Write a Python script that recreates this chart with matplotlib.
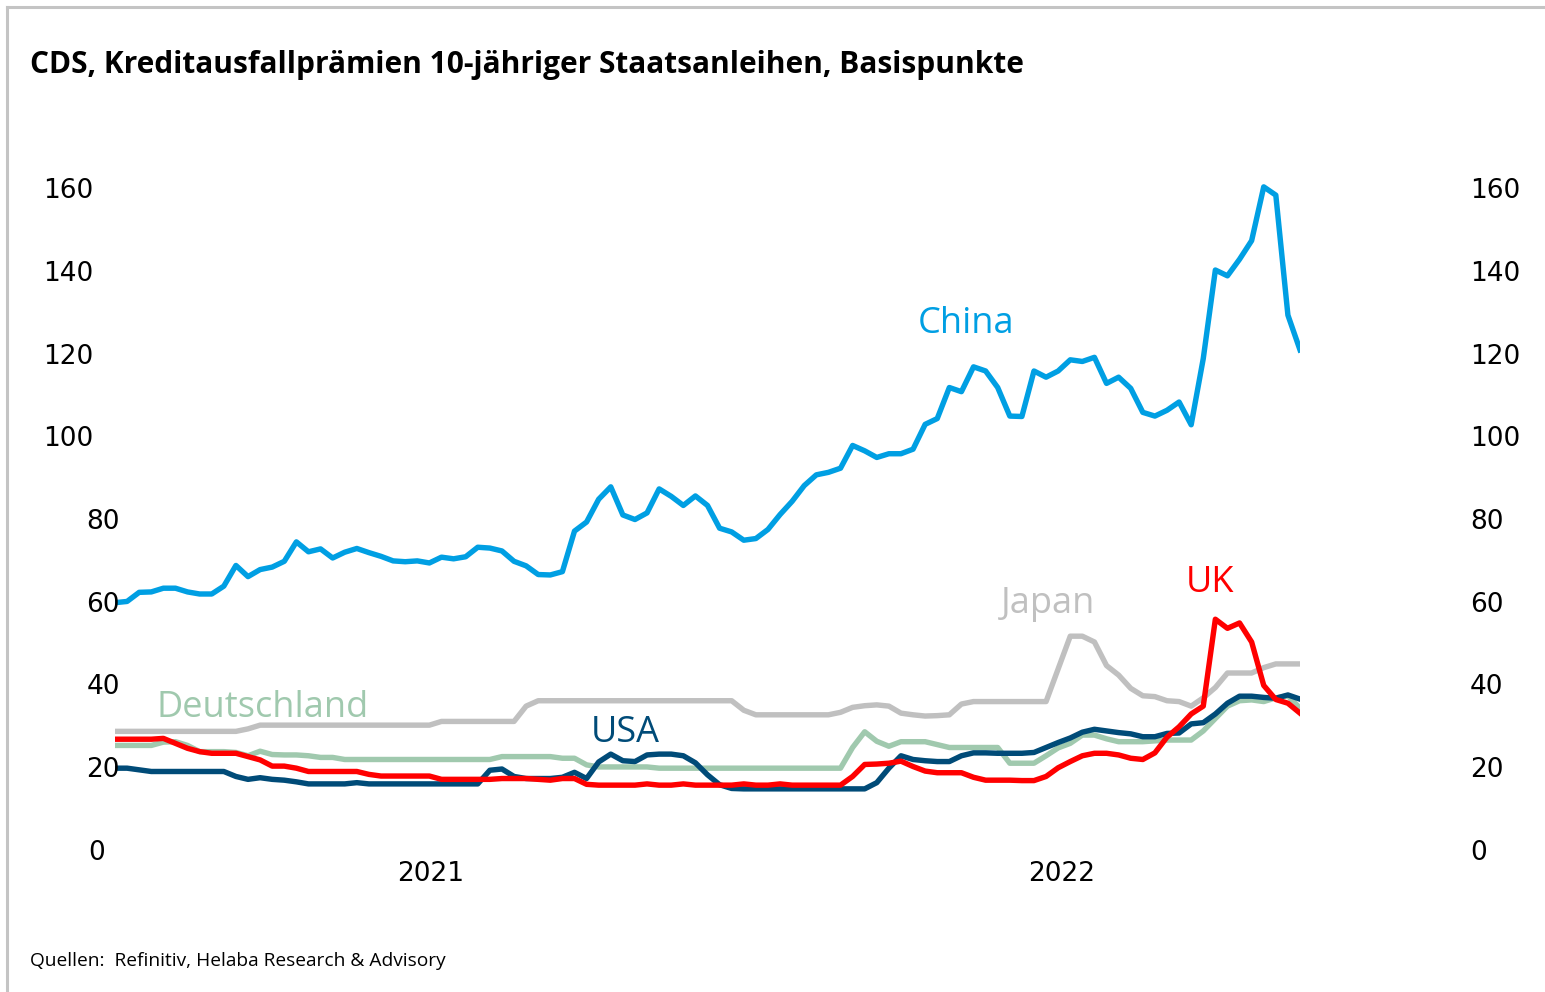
import matplotlib
matplotlib.use("Agg")
import matplotlib.pyplot as plt
import matplotlib.transforms as mtransforms
import matplotlib.dates as mdates
from matplotlib.lines import Line2D
import pandas as pd

# ---------------- data (weekly) ----------------
start_date = "2020-12-31"
n_weeks = 99

china = [60.5, 60.8, 63.0, 63.1, 64.0, 64.0, 63.1, 62.6, 62.6, 64.5,
         69.5, 66.8, 68.5, 69.1, 70.5, 75.2, 72.8, 73.5, 71.3, 72.7,
         73.6, 72.6, 71.7, 70.6, 70.4, 70.6, 70.1, 71.5, 71.1, 71.6,
         73.9, 73.7, 73.0, 70.5, 69.4, 67.3, 67.2, 68.0, 77.8, 80.0,
         85.5, 88.5, 81.7, 80.6, 82.2, 88.0, 86.2, 84.0, 86.3, 84.0,
         78.5, 77.6, 75.6, 76.0, 78.2, 81.8, 85.0, 88.8, 91.4, 92.0,
         93.0, 98.5, 97.2, 95.6, 96.5, 96.5, 97.6, 103.6, 105.0, 112.5,
         111.5, 117.5, 116.5, 112.5, 105.6, 105.5, 116.5, 115.0, 116.5, 119.2,
         118.8, 119.8, 113.5, 115.0, 112.3, 106.5, 105.6, 107.0, 109.0, 103.5,
         119.5, 140.9, 139.5, 143.5, 148.0, 161.0, 159.0, 130.0, 121.6]

japan = [29.4, 29.4, 29.4, 29.4, 29.4, 29.4, 29.4, 29.4, 29.4, 29.4,
         29.4, 30.0, 30.9, 30.9, 30.9, 30.9, 30.9, 30.9, 30.9, 30.9,
         30.9, 30.9, 30.9, 30.9, 30.9, 30.9, 30.9, 31.8, 31.8, 31.8,
         31.8, 31.8, 31.8, 31.8, 35.5, 36.8, 36.8, 36.8, 36.8, 36.8,
         36.8, 36.8, 36.8, 36.8, 36.8, 36.8, 36.8, 36.8, 36.8, 36.8,
         36.8, 36.8, 34.5, 33.4, 33.4, 33.4, 33.4, 33.4, 33.4, 33.4,
         34.0, 35.2, 35.6, 35.8, 35.5, 33.8, 33.4, 33.1, 33.2, 33.4,
         36.0, 36.6, 36.6, 36.6, 36.6, 36.6, 36.6, 36.6, 44.5, 52.4,
         52.4, 51.0, 45.3, 43.0, 39.8, 38.0, 37.8, 36.8, 36.6, 35.5,
         37.5, 40.0, 43.5, 43.5, 43.5, 44.8, 45.7, 45.7, 45.7]

usa = [20.5, 20.5, 20.1, 19.7, 19.7, 19.7, 19.7, 19.7, 19.7, 19.7,
       18.5, 17.8, 18.2, 17.8, 17.6, 17.2, 16.7, 16.7, 16.7, 16.7,
       17.0, 16.7, 16.7, 16.7, 16.7, 16.7, 16.7, 16.7, 16.7, 16.7,
       16.7, 20.0, 20.3, 18.5, 18.0, 18.0, 18.0, 18.3, 19.5, 18.0,
       22.0, 23.9, 22.3, 22.1, 23.7, 23.9, 23.9, 23.5, 21.8, 18.9,
       16.5, 15.6, 15.5, 15.5, 15.5, 15.5, 15.5, 15.5, 15.5, 15.5,
       15.5, 15.5, 15.5, 17.0, 20.5, 23.5, 22.6, 22.3, 22.1, 22.1,
       23.5, 24.2, 24.2, 24.1, 24.1, 24.1, 24.3, 25.5, 26.7, 27.8,
       29.2, 29.9, 29.5, 29.1, 28.8, 28.1, 28.1, 28.9, 29.0, 31.2,
       31.5, 33.6, 36.2, 37.9, 37.9, 37.6, 37.4, 38.2, 37.2]

uk = [27.5, 27.5, 27.5, 27.5, 27.7, 26.5, 25.3, 24.5, 24.1, 24.1,
      24.1, 23.3, 22.5, 21.0, 21.0, 20.5, 19.7, 19.7, 19.7, 19.7,
      19.7, 19.0, 18.6, 18.6, 18.6, 18.6, 18.6, 17.8, 17.8, 17.8,
      17.8, 17.8, 18.0, 18.0, 18.0, 17.8, 17.6, 18.0, 18.0, 16.6,
      16.4, 16.4, 16.4, 16.4, 16.7, 16.4, 16.4, 16.7, 16.4, 16.4,
      16.4, 16.4, 16.7, 16.4, 16.4, 16.7, 16.4, 16.4, 16.4, 16.4,
      16.4, 18.5, 21.4, 21.5, 21.7, 22.2, 20.9, 19.8, 19.4, 19.4,
      19.4, 18.3, 17.6, 17.6, 17.6, 17.5, 17.5, 18.5, 20.6, 22.1,
      23.5, 24.1, 24.1, 23.7, 22.9, 22.6, 24.2, 28.0, 30.5, 33.6,
      35.5, 56.5, 54.3, 55.6, 51.0, 40.5, 37.1, 36.2, 33.8]

deutschland = [26.0, 26.0, 26.0, 26.0, 26.8, 26.9, 26.0, 24.5, 24.5, 24.5,
               24.3, 23.5, 24.6, 23.8, 23.7, 23.7, 23.5, 23.1, 23.1, 22.6,
               22.6, 22.6, 22.6, 22.6, 22.6, 22.6, 22.6, 22.6, 22.6, 22.6,
               22.6, 22.6, 23.3, 23.3, 23.3, 23.3, 23.3, 22.9, 22.9, 21.3,
               20.8, 20.8, 20.8, 20.8, 20.8, 20.5, 20.5, 20.5, 20.5, 20.5,
               20.5, 20.5, 20.5, 20.5, 20.5, 20.5, 20.5, 20.5, 20.5, 20.5,
               20.5, 25.5, 29.3, 27.0, 25.8, 26.9, 26.9, 26.9, 26.2, 25.5,
               25.5, 25.5, 25.5, 25.5, 21.7, 21.7, 21.7, 23.5, 25.4, 26.5,
               28.5, 28.5, 27.6, 26.9, 26.9, 26.9, 27.1, 27.3, 27.3, 27.3,
               29.5, 32.5, 35.5, 36.8, 37.0, 36.6, 37.5, 38.0, 35.0]

y_ticks = [0, 20, 40, 60, 80, 100, 120, 140, 160]
year_labels = ["2021", "2022"]
year_centers = ["2021-07-02", "2022-07-02"]

title = "CDS, Kreditausfallprämien 10-jähriger Staatsanleihen, Basispunkte"
source = "Quellen:  Refinitiv, Helaba Research & Advisory"

# ---------------- styling ----------------
C_CHINA = "#009FE3"
C_USA = "#004B78"
C_UK = "#FF0000"
C_JAPAN = "#C0C0C0"
C_DE = "#A0C9AE"

W, H = 1545, 992
fig = plt.figure(figsize=(W / 100, H / 100), dpi=100)

px_per_unit = 4.1375
y0_px = 853
ymax = 170
ax = fig.add_axes([115 / W, (H - y0_px) / H, (1300 - 115) / W, ymax * px_per_unit / H])

dates = pd.date_range(start_date, periods=n_weeks, freq="7D")
lw = 3.9
ax.plot(dates, japan, color=C_JAPAN, lw=lw, zorder=1, solid_joinstyle="round")
ax.plot(dates, deutschland, color=C_DE, lw=lw, zorder=2, solid_joinstyle="round")
ax.plot(dates, usa, color=C_USA, lw=lw, zorder=3, solid_joinstyle="round")
ax.plot(dates, uk, color=C_UK, lw=lw, zorder=4, solid_joinstyle="round")
ax.plot(dates, china, color=C_CHINA, lw=lw, zorder=5, solid_joinstyle="round")

ax.set_xlim(dates[0], dates[-1])
ax.set_ylim(0, ymax)
ax.set_axis_off()

# y tick labels (left and right)
tr_fig_data = mtransforms.blended_transform_factory(fig.transFigure, ax.transData)
left_edges = {0: 105, 20: 120, 40: 120, 60: 120, 80: 120, 100: 93, 120: 93, 140: 93, 160: 93}
tick_font = dict(family="DejaVu Sans", size=19, color="black")
for v in y_ticks:
    fig.text(left_edges[v] / W, v, str(v), transform=tr_fig_data, ha="right", va="center", **tick_font)
    fig.text(1470 / W, v, str(v), transform=tr_fig_data, ha="left", va="center", **tick_font)

# year labels
tr_data_fig = mtransforms.blended_transform_factory(ax.transData, fig.transFigure)
for lab, c in zip(year_labels, year_centers):
    ax.text(mdates.date2num(pd.Timestamp(c)), 1 - 874 / H, lab, transform=tr_data_fig,
            ha="center", va="center", **tick_font)

# series labels
lab_font = dict(family="Open Sans", size=26)
def flabel(x, y, s, c):
    fig.text(x / W, 1 - y / H, s, color=c, ha="left", va="baseline", **lab_font)

flabel(918, 333, "China", C_CHINA)
flabel(156, 717, "Deutschland", C_DE)
flabel(591, 742, "USA", C_USA)
flabel(1001, 613, "Japan", C_JAPAN)
flabel(1186, 592, "UK", C_UK)

# title and source
fig.text(30 / W, 1 - 73 / H, title, ha="left", va="baseline", family="Open Sans",
         weight="bold", size=21.5, color="black")
fig.text(30 / W, 1 - 966 / H, source, ha="left", va="baseline", family="Open Sans",
         size=13.8, color="black")

# frame (top and left grey lines)
fig.add_artist(Line2D([7 / W, 7 / W], [0, 1 - 7 / H], color="#C4C4C4", lw=2.2,
                      transform=fig.transFigure))
fig.add_artist(Line2D([7 / W, 1], [1 - 7 / H, 1 - 7 / H], color="#C4C4C4", lw=2.2,
                      transform=fig.transFigure))

fig.savefig("out.png", dpi=100, facecolor="white")
